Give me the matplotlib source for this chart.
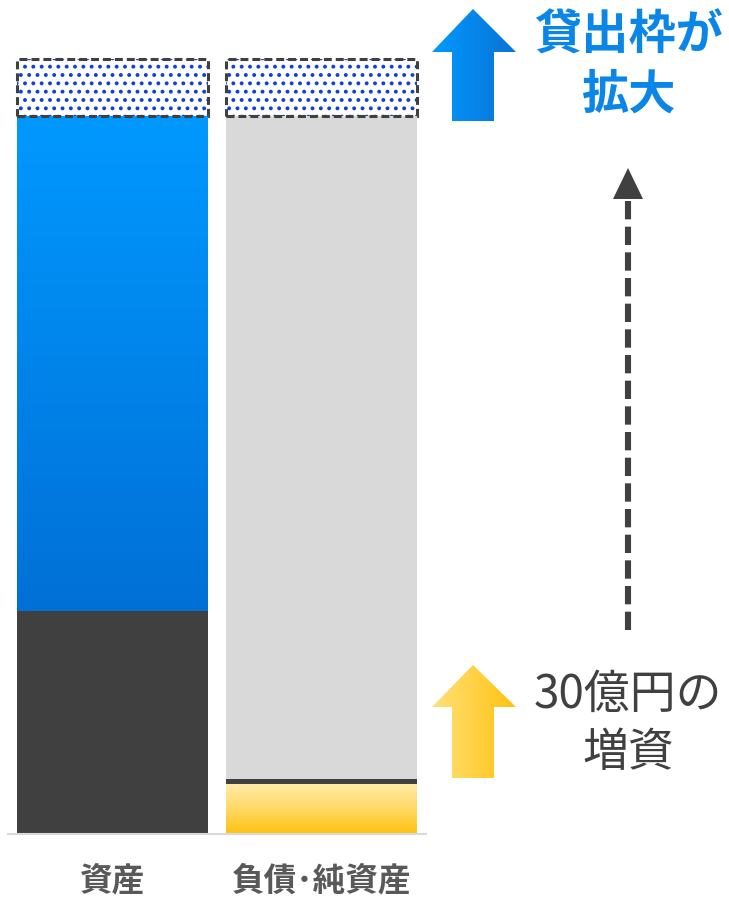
import numpy as np
import matplotlib.pyplot as plt
from matplotlib.patches import Polygon
from matplotlib.colors import LinearSegmentedColormap

plt.rcParams['font.family'] = ['Noto Sans CJK JP', 'DejaVu Sans']
plt.rcParams['hatch.linewidth'] = 1.6

# バランスシートの構成（増資前の総額を100とする）
categories = ['資産', '負債･純資産']
assets_other = 31.0        # その他資産
assets_loans = 69.0        # 貸出金
capital_increase = 7.0     # 30億円の増資
capital_line = 0.7         # 既存の純資産
liabilities = 92.3         # 負債
expansion = [8.0, 8.0]     # 拡大分

base_total = assets_other + assets_loans

W, H = 729, 900
fig = plt.figure(figsize=(W / 100, H / 100), dpi=100)

px_per_unit = 7.18
ymax = 110
ax = fig.add_axes([8 / W, 66 / H, 418 / W, ymax * px_per_unit / H])

blue_cmap = LinearSegmentedColormap.from_list('blue', ['#0070D6', '#0099FF'])
yellow_cmap = LinearSegmentedColormap.from_list('yellow', ['#FFC20E', '#FFD966', '#FFEBAA'])
bw = 191 / 209


def gradient_bar(ax, x, bottom, height, cmap):
    bar = ax.bar(x, height, bottom=bottom, width=bw, color='none', linewidth=0)[0]
    grad = np.linspace(0, 1, 256).reshape(-1, 1)
    im = ax.imshow(grad, cmap=cmap, origin='lower', aspect='auto',
                   extent=(x - bw / 2, x + bw / 2, bottom, bottom + height))
    im.set_clip_path(bar)
    return bar


# 資産
ax.bar(0, assets_other, width=bw, color='#404040', linewidth=0)
gradient_bar(ax, 0, assets_other, assets_loans, blue_cmap)

# 負債・純資産
gradient_bar(ax, 1, 0, capital_increase, yellow_cmap)
ax.bar(1, capital_line, bottom=capital_increase, width=bw, color='#404040', linewidth=0)
ax.bar(1, liabilities, bottom=capital_increase + capital_line, width=bw,
       color='#D9D9D9', linewidth=0)

# 拡大分（点線枠）
ax.bar([0, 1], expansion, bottom=base_total, width=bw, color='white',
       edgecolor='#1040D8', hatch='..', linewidth=0)
ax.bar([0, 1], expansion, bottom=base_total, width=bw, fill=False,
       edgecolor='#404040', linewidth=2.2, linestyle=(0, (2.6, 1.3)), clip_on=False)

ax.set_xlim(-0.5, 1.5)
ax.set_ylim(0, ymax)
ax.set_xticks([0, 1])
ax.set_xticklabels(categories, fontsize=23.5, fontweight='bold', color='#595959')
ax.tick_params(axis='x', length=0, pad=22)
ax.set_yticks([])
for side in ['top', 'right', 'left']:
    ax.spines[side].set_visible(False)
ax.spines['bottom'].set_color('#D9D9D9')
ax.spines['bottom'].set_linewidth(1.5)

# 注釈（矢印とテキスト）
ov = fig.add_axes([0, 0, 1, 1])
ov.set_xlim(0, W)
ov.set_ylim(H, 0)
ov.axis('off')


def gradient_arrow(ov, top, bottom, head_base, cmap):
    pts = [(452, bottom), (452, head_base), (432, head_base), (473, top),
           (516, head_base), (494, head_base), (494, bottom)]
    poly = Polygon(pts, closed=True, facecolor='none', edgecolor='none')
    ov.add_patch(poly)
    grad = np.linspace(0, 1, 256).reshape(1, -1)
    im = ov.imshow(grad, cmap=cmap, aspect='auto', extent=(432, 517, bottom, top))
    im.set_clip_path(poly)


gradient_arrow(ov, 9, 121, 52,
               LinearSegmentedColormap.from_list('ab', ['#0099FF', '#0A72D4']))
gradient_arrow(ov, 665, 778, 707,
               LinearSegmentedColormap.from_list('ay', ['#FFE07A', '#FFC20E']))
ov.set_xlim(0, W)
ov.set_ylim(H, 0)

# 点線の矢印
ov.plot([628, 628], [201, 632], color='#404040', linewidth=4.4,
        dashes=(3.0, 1.2), solid_capstyle='butt', dash_capstyle='butt')
ov.add_patch(Polygon([(613, 199), (643, 199), (628, 168)], closed=True,
                     facecolor='#404040', edgecolor='none'))

ov.text(629, 36, '貸出枠が', ha='center', va='center', fontsize=34,
        fontweight='bold', color='#0A86E8')
ov.text(628, 95, '拡大', ha='center', va='center', fontsize=34,
        fontweight='bold', color='#0A86E8')
ov.text(628, 695, '30億円の', ha='center', va='center', fontsize=33, color='#404040')
ov.text(628, 753, '増資', ha='center', va='center', fontsize=33, color='#404040')

fig.savefig('out.png', dpi=100)
